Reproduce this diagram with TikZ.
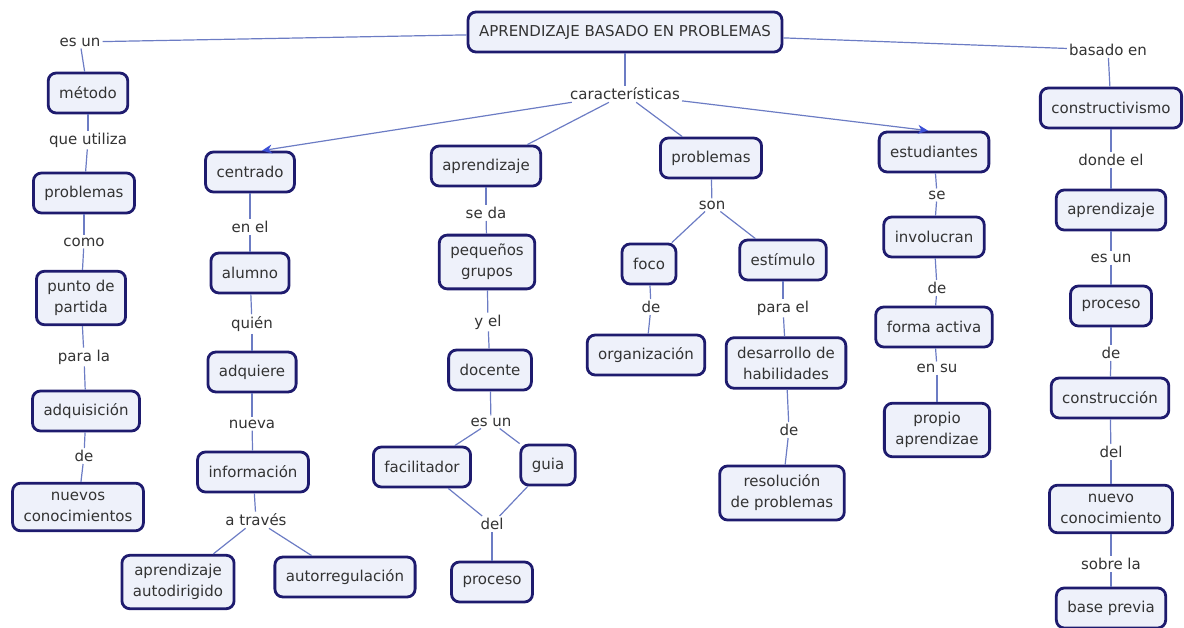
\documentclass[tikz,border=0pt]{standalone}
\usepackage{fontspec}
\setmainfont{DejaVu Sans}
\usetikzlibrary{arrows.meta}
\definecolor{boxline}{HTML}{1E1B6E}
\definecolor{boxfill}{HTML}{EEF1FA}
\definecolor{linkblue}{HTML}{6C7CC4}
\definecolor{tipblue}{HTML}{3B4FD6}
\definecolor{ink}{HTML}{333333}

\begin{document}
\begin{tikzpicture}[x=1pt, y=-1pt,
        concept/.style={rectangle, draw=boxline, line width=2.8pt, fill=boxfill, rounded corners=8pt, text=ink, align=center, inner xsep=11pt, inner ysep=9pt, minimum height=40pt, font=\fontsize{15}{21}\selectfont},
        linking/.style={text=ink, fill=white, inner sep=2pt, font=\fontsize{15}{21}\selectfont},
        conn/.style={draw=linkblue, line width=1.2pt},
        arrowed/.style={conn, -{Stealth[length=10pt, width=9pt, color=tipblue]}}
    ]
        \useasboundingbox (0,0) rectangle (1184,628);

        % top
        \node[concept] (abp) at (625,32) {APRENDIZAJE BASADO EN PROBLEMAS};
        \node[linking] (esun) at (80,42) {es un};
        \node[linking] (basado) at (1108,50) {basado en};
        \node[linking] (carac) at (625,94) {características};

        % metodo
        \node[concept] (metodo) at (88,93) {método};
        \node[linking] (utiliza) at (88,140) {que utiliza};
        \node[concept] (problemas) at (84,193) {problemas};
        \node[linking] (como) at (84,242) {como};
        \node[concept] (punto) at (81,298) {punto de\\partida};
        \node[linking] (parala) at (84,357) {para la};
        \node[concept] (adquisicion) at (86,411) {adquisición};
        \node[linking] (de1) at (84,456) {de};
        \node[concept] (nuevos) at (78,507) {nuevos\\conocimientos};

        % centrado
        \node[concept] (centrado) at (250,172) {centrado};
        \node[linking] (enel) at (250,227) {en el};
        \node[concept] (alumno) at (250,273) {alumno};
        \node[linking] (quien) at (252,324) {quién};
        \node[concept] (adquiere) at (252,372) {adquiere};
        \node[linking] (nueva) at (252,424) {nueva};
        \node[concept] (informacion) at (253,472) {información};
        \node[linking] (atraves) at (256,520) {a través};
        \node[concept] (autodirigido) at (178,582) {aprendizaje\\autodirigido};
        \node[concept] (autorreg) at (345,577) {autorregulación};

        % aprendizaje
        \node[concept] (aprendizaje) at (486,166) {aprendizaje};
        \node[linking] (seda) at (486,213) {se da};
        \node[concept] (grupos) at (487,262) {pequeños\\grupos};
        \node[linking] (yel) at (488,322) {y el};
        \node[concept] (docente) at (490,370) {docente};
        \node[linking] (esun2) at (491,422) {es un};
        \node[concept] (facilitador) at (422,467) {facilitador};
        \node[concept] (guia) at (548,465) {guia};
        \node[linking] (del1) at (492,524) {del};
        \node[concept] (proceso1) at (492,582) {proceso};

        % problemas
        \node[concept] (problemas2) at (711,158) {problemas};
        \node[linking] (son) at (712,205) {son};
        \node[concept] (foco) at (649,264) {foco};
        \node[concept] (estimulo) at (783,260) {estímulo};
        \node[linking] (de2) at (651,307) {de};
        \node[concept] (organizacion) at (646,355) {organización};
        \node[linking] (parael) at (783,308) {para el};
        \node[concept] (desarrollo) at (786,363) {desarrollo de\\habilidades};
        \node[linking] (de3) at (789,430) {de};
        \node[concept] (resolucion) at (782,493) {resolución\\de problemas};

        % estudiantes
        \node[concept] (estudiantes) at (934,152) {estudiantes};
        \node[linking] (se) at (937,195) {se};
        \node[concept] (involucran) at (934,237) {involucran};
        \node[linking] (de4) at (937,288) {de};
        \node[concept] (forma) at (934,327) {forma activa};
        \node[linking] (ensu) at (937,368) {en su};
        \node[concept] (propio) at (937,430) {propio\\aprendizae};

        % constructivismo
        \node[concept] (constructivismo) at (1111,108) {constructivismo};
        \node[linking] (dondeel) at (1111,160) {donde el};
        \node[concept] (aprendizaje2) at (1111,210) {aprendizaje};
        \node[linking] (esun3) at (1111,258) {es un};
        \node[concept] (proceso2) at (1111,306) {proceso};
        \node[linking] (de5) at (1111,353) {de};
        \node[concept] (construccion) at (1110,398) {construcción};
        \node[linking] (del2) at (1111,452) {del};
        \node[concept] (nuevo) at (1111,509) {nuevo\\conocimiento};
        \node[linking] (sobrela) at (1111,564) {sobre la};
        \node[concept] (base) at (1111,608) {base previa};

        \draw[conn] (abp) -- (esun);
        \draw[conn] (abp) -- (basado);
        \draw[conn] (abp) -- (carac);
        \draw[arrowed] (carac) -- ([xshift=12pt]centrado.north);
        \draw[conn] (carac) -- (aprendizaje);
        \draw[conn] (carac) -- (problemas2);
        \draw[arrowed] (carac) -- ([xshift=-6pt]estudiantes.north);

        \draw[conn] (esun) -- (metodo);
        \draw[conn] (metodo) -- (utiliza);
        \draw[conn] (utiliza) -- (problemas);
        \draw[conn] (problemas) -- (como);
        \draw[conn] (como) -- (punto);
        \draw[conn] (punto) -- (parala);
        \draw[conn] (parala) -- (adquisicion);
        \draw[conn] (adquisicion) -- (de1);
        \draw[conn] (de1) -- (nuevos);

        \draw[conn] (centrado) -- (enel);
        \draw[conn] (enel) -- (alumno);
        \draw[conn] (alumno) -- (quien);
        \draw[conn] (quien) -- (adquiere);
        \draw[conn] (adquiere) -- (nueva);
        \draw[conn] (nueva) -- (informacion);
        \draw[conn] (informacion) -- (atraves);
        \draw[conn] (atraves) -- (autodirigido);
        \draw[conn] (atraves) -- (autorreg);

        \draw[conn] (aprendizaje) -- (seda);
        \draw[conn] (seda) -- (grupos);
        \draw[conn] (grupos) -- (yel);
        \draw[conn] (yel) -- (docente);
        \draw[conn] (docente) -- (esun2);
        \draw[conn] (esun2) -- (facilitador);
        \draw[conn] (esun2) -- (guia);
        \draw[conn] (facilitador) -- (del1);
        \draw[conn] (guia) -- (del1);
        \draw[conn] (del1) -- (proceso1);

        \draw[conn] (problemas2) -- (son);
        \draw[conn] (son) -- (foco);
        \draw[conn] (son) -- (estimulo);
        \draw[conn] (foco) -- (de2);
        \draw[conn] (de2) -- (organizacion);
        \draw[conn] (estimulo) -- (parael);
        \draw[conn] (parael) -- (desarrollo);
        \draw[conn] (desarrollo) -- (de3);
        \draw[conn] (de3) -- (resolucion);

        \draw[conn] (estudiantes) -- (se);
        \draw[conn] (se) -- (involucran);
        \draw[conn] (involucran) -- (de4);
        \draw[conn] (de4) -- (forma);
        \draw[conn] (forma) -- (ensu);
        \draw[conn] (ensu) -- (propio);

        \draw[conn] (basado) -- (constructivismo);
        \draw[conn] (constructivismo) -- (dondeel);
        \draw[conn] (dondeel) -- (aprendizaje2);
        \draw[conn] (aprendizaje2) -- (esun3);
        \draw[conn] (esun3) -- (proceso2);
        \draw[conn] (proceso2) -- (de5);
        \draw[conn] (de5) -- (construccion);
        \draw[conn] (construccion) -- (del2);
        \draw[conn] (del2) -- (nuevo);
        \draw[conn] (nuevo) -- (sobrela);
        \draw[conn] (sobrela) -- (base);
    \end{tikzpicture}
\end{document}
